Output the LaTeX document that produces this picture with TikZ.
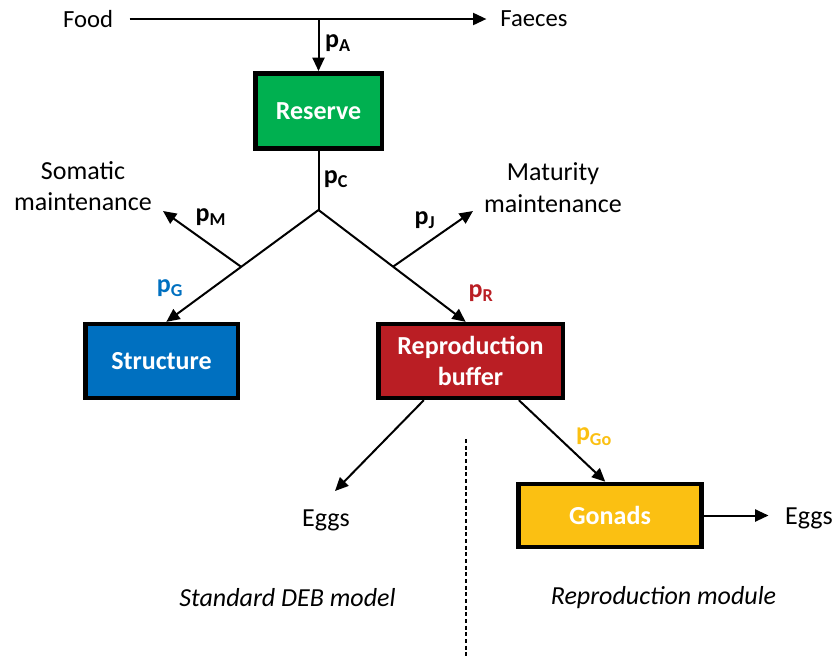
\documentclass[tikz,border=0pt]{standalone}
\usepackage{fontspec}
\setmainfont{Carlito}
\usepackage{xcolor}
\usepackage{tikz}
\usetikzlibrary{positioning,arrows.meta}
\definecolor{DEBgreen}{HTML}{00B050}
\definecolor{DEBblue}{HTML}{0070C0}
\definecolor{DEBred}{HTML}{BA1E24}
\definecolor{DEBgold}{HTML}{FBC012}
\tikzset{
  pool/.style={draw,line width=3.4pt,text=white,font=\fontsize{19.5}{23.8}\selectfont\bfseries,align=center,inner sep=0pt},
  flux/.style={font=\fontsize{19.5}{23.8}\selectfont\bfseries,inner sep=1pt},
  txt/.style={font=\fontsize{19.5}{23.8}\selectfont,align=center},
  arr/.style={-{Triangle[length=10pt,width=9pt]},line width=1.5pt},
}

\begin{document}
\begin{tikzpicture}[x=0.75pt,y=-0.75pt]
\useasboundingbox (0,0) rectangle (837,657);
% pools
\node[pool,fill=DEBgreen,minimum width=94.9pt,minimum height=56.6pt] (reserve) at (318.5,111) {Reserve};
\node[pool,fill=DEBblue,minimum width=114.4pt,minimum height=55.3pt] (structure) at (161.5,361) {Structure};
\node[pool,fill=DEBred,minimum width=138.4pt,minimum height=55.3pt] (buffer) at (470.5,361) {Reproduction\\buffer};
\node[pool,fill=DEBgold,minimum width=137.6pt,minimum height=47.3pt] (gonads) at (610,515.5) {Gonads};
% sources and sinks
\node[txt,font=\fontsize{18.5}{22}\selectfont] (food) at (88,19) {Food};
\node[txt,font=\fontsize{18.5}{22}\selectfont] (faeces) at (534,19) {Faeces};
\node[txt] (somatic) at (83,186) {Somatic\\maintenance};
\node[txt] (maturity) at (553,187.4) {Maturity\\maintenance};
\node[txt] (eggsA) at (326,520) {Eggs};
\node[txt] (eggsB) at (809,518.6) {Eggs};
\node[txt,font=\fontsize{19.5}{23.8}\selectfont\itshape] (standard) at (287.5,598) {Standard DEB model};
\node[txt,font=\fontsize{19.5}{23.8}\selectfont\itshape] (module) at (663.5,598) {Reproduction module};
% split points
\coordinate (fa) at (318.5,19);
\coordinate (jc) at (318.5,210);
\coordinate (jl) at (241,266.7);
\coordinate (jr) at (393,266.7);
\coordinate (sm) at (163,211);
\coordinate (mm) at (473,211);
\coordinate (ea) at (335,491);
% fluxes
\draw[arr,shorten <=9pt,shorten >=7pt] (food) -- (faeces);
\draw[arr] (fa) -- (reserve);
\draw[line width=1.5pt] (reserve) -- (jc);
\draw[arr] (jc) -- (structure.83);
\draw[arr] (jc) -- (buffer.97);
\draw[arr] (jl) -- (sm);
\draw[arr] (jr) -- (mm);
\draw[arr] (buffer.220) -- (ea);
\draw[arr] (buffer.321) -- (gonads.98);
\draw[arr,shorten >=9pt] (gonads.east) -- (gonads.east -| eggsB.west);
\draw[dashed,line width=1.1pt,dash pattern=on 3pt off 2pt] (466,439) -- (466,657);
% flux labels
\node[flux] (pA) at (338,43) {p\textsubscript{A}};
\node[flux] (pC) at (336,179) {p\textsubscript{C}};
\node[flux] (pM) at (211,216.7) {p\textsubscript{M}};
\node[flux] (pJ) at (425,220) {p\textsubscript{J}};
\node[flux,text=DEBblue] (pG) at (170,288) {p\textsubscript{G}};
\node[flux,text=DEBred] (pR) at (481,293) {p\textsubscript{R}};
\node[flux,text=DEBgold] (pGo) at (594,436.7) {p\textsubscript{Go}};
\end{tikzpicture}
\end{document}
